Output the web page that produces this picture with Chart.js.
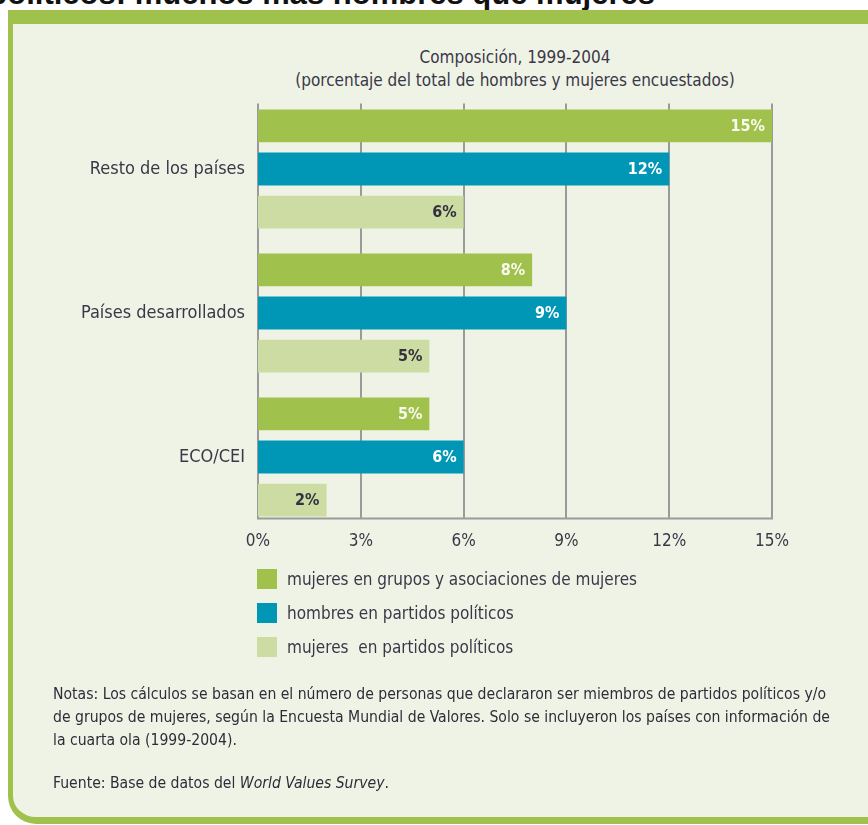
<!DOCTYPE html>
<html>
<head>
<meta charset="utf-8">
<script src="https://cdn.jsdelivr.net/npm/chart.js@4.4.1/dist/chart.umd.min.js"></script>
<style>
  html, body { margin:0; padding:0; background:#ffffff; width:868px; height:825px; overflow:hidden; position:relative; }
  .narrow { font-family: "Liberation Sans Narrow", "Arial Narrow", "DejaVu Sans Condensed", sans-serif; }
  #pagetitle { position:absolute; right:213px; top:-22px; font: bold 31px "Liberation Sans", Arial, sans-serif; line-height:31px; color:#111; white-space:nowrap; }
  #box { position:absolute; left:8px; top:10px; width:900px; height:814px; background:#EFF3E6;
         border-left:5px solid #A0C14B; border-top:14px solid #A0C14B; border-bottom:7px solid #A0C14B;
         border-bottom-left-radius:28px; box-sizing:border-box; }
  #charttitle { position:absolute; left:258px; width:514px; top:46px; text-align:center; font-size:17px; line-height:23px; color:#3a3848; }
  #legend { position:absolute; left:257px; top:562px; font-size:17px; color:#3a3848; }
  .li { height:34px; display:flex; align-items:center; }
  .sw { width:20px; height:20px; margin-right:10px; }
  #notes { position:absolute; left:53px; top:683px; font-size:15.6px; line-height:23px; color:#2e2c38; white-space:nowrap; }
  #source { position:absolute; left:53px; top:772px; font-size:15.6px; line-height:23px; color:#2e2c38; white-space:nowrap; }
  canvas { position:absolute; left:0; top:0; }
</style>
</head>
<body>
<div id="pagetitle">políticos: muchos más hombres que mujeres</div>
<div id="box"></div>
<div id="charttitle" class="narrow">Composición, 1999-2004<br>(porcentaje del total de hombres y mujeres encuestados)</div>
<canvas id="c" width="868" height="825"></canvas>
<div id="legend" class="narrow"></div>
<div id="notes" class="narrow">
Notas: Los cálculos se basan en el número de personas que declararon ser miembros de partidos políticos y/o<br>
de grupos de mujeres, según la Encuesta Mundial de Valores. Solo se incluyeron los países con información de<br>
la cuarta ola (1999-2004).
</div>
<div id="source" class="narrow">Fuente: Base de datos del <i>World Values Survey</i>.</div>
<script>
const categories = ["Resto de los países", "Países desarrollados", "ECO/CEI"];
const seriesNames = ["mujeres en grupos y asociaciones de mujeres", "hombres en partidos políticos", "mujeres  en partidos políticos"];
const mujeresGrupos = [15, 8, 5];
const hombresPartidos = [12, 9, 6];
const mujeresPartidos = [6, 5, 2];
const xTicks = [0, 3, 6, 9, 12, 15];

const colors = ["#A0C14B", "#0097B7", "#CCDCA2"];
const labelColors = ["#FAFAEE", "#FFFFFF", "#33303F"];
const FONT = '"Liberation Sans Narrow", "Arial Narrow", "DejaVu Sans Condensed", sans-serif';

const gridPlugin = {
  id: 'customGrid',
  beforeDatasetsDraw(chart) {
    const ctx = chart.ctx, xs = chart.scales.x;
    let top = Infinity, bottom = -Infinity;
    chart.data.datasets.forEach((d, i) => {
      chart.getDatasetMeta(i).data.forEach(b => {
        top = Math.min(top, b.y - b.height / 2);
        bottom = Math.max(bottom, b.y + b.height / 2);
      });
    });
    top -= 6; bottom += 2;
    ctx.save();
    ctx.strokeStyle = '#9a9a9a';
    ctx.lineWidth = 2;
    xTicks.forEach(v => {
      const x = Math.round(xs.getPixelForValue(v));
      ctx.beginPath(); ctx.moveTo(x, top); ctx.lineTo(x, bottom); ctx.stroke();
    });
    ctx.beginPath();
    ctx.moveTo(xs.getPixelForValue(0) - 1, bottom);
    ctx.lineTo(xs.getPixelForValue(xTicks[xTicks.length - 1]) + 1, bottom);
    ctx.stroke();
    ctx.restore();
  },
  afterDatasetsDraw(chart) {
    const ctx = chart.ctx;
    ctx.save();
    ctx.font = 'bold 16px ' + FONT;
    ctx.textAlign = 'right';
    ctx.textBaseline = 'middle';
    chart.data.datasets.forEach((d, i) => {
      ctx.fillStyle = labelColors[i];
      chart.getDatasetMeta(i).data.forEach((b, j) => {
        ctx.fillText(d.data[j] + '%', b.x - 7, b.y + 1);
      });
    });
    ctx.restore();
  }
};

const chart = new Chart(document.getElementById('c'), {
  type: 'bar',
  data: {
    labels: categories,
    datasets: [
      { label: seriesNames[0], data: mujeresGrupos, backgroundColor: colors[0] },
      { label: seriesNames[1], data: hombresPartidos, backgroundColor: colors[1] },
      { label: seriesNames[2], data: mujeresPartidos, backgroundColor: colors[2] }
    ]
  },
  options: {
    indexAxis: 'y',
    responsive: false,
    animation: false,
    devicePixelRatio: 1,
    categoryPercentage: 0.9,
    barPercentage: 0.76,
    layout: { padding: { left: 0, right: 96, top: 97, bottom: 0 } },
    plugins: { legend: { display: false }, tooltip: { enabled: false } },
    scales: {
      x: {
        min: 0, max: 15,
        afterBuildTicks: s => { s.ticks = xTicks.map(v => ({ value: v })); },
        afterFit: s => { s.height = 825 - 529; },
        grid: { display: false }, border: { display: false },
        ticks: { padding: -6, color: '#3a3848', font: { family: FONT, size: 17 }, callback: v => v + '%' }
      },
      y: {
        afterFit: s => { s.width = 258; },
        grid: { display: false }, border: { display: false },
        ticks: { padding: 5, color: '#3a3848', font: { family: FONT, size: 18 } }
      }
    }
  },
  plugins: [gridPlugin]
});

const lg = document.getElementById('legend');
chart.data.datasets.forEach(d => {
  const row = document.createElement('div'); row.className = 'li';
  const sw = document.createElement('div'); sw.className = 'sw'; sw.style.background = d.backgroundColor;
  const tx = document.createElement('span'); tx.textContent = d.label; tx.style.whiteSpace = 'pre';
  row.appendChild(sw); row.appendChild(tx); lg.appendChild(row);
});
</script>
</body>
</html>
